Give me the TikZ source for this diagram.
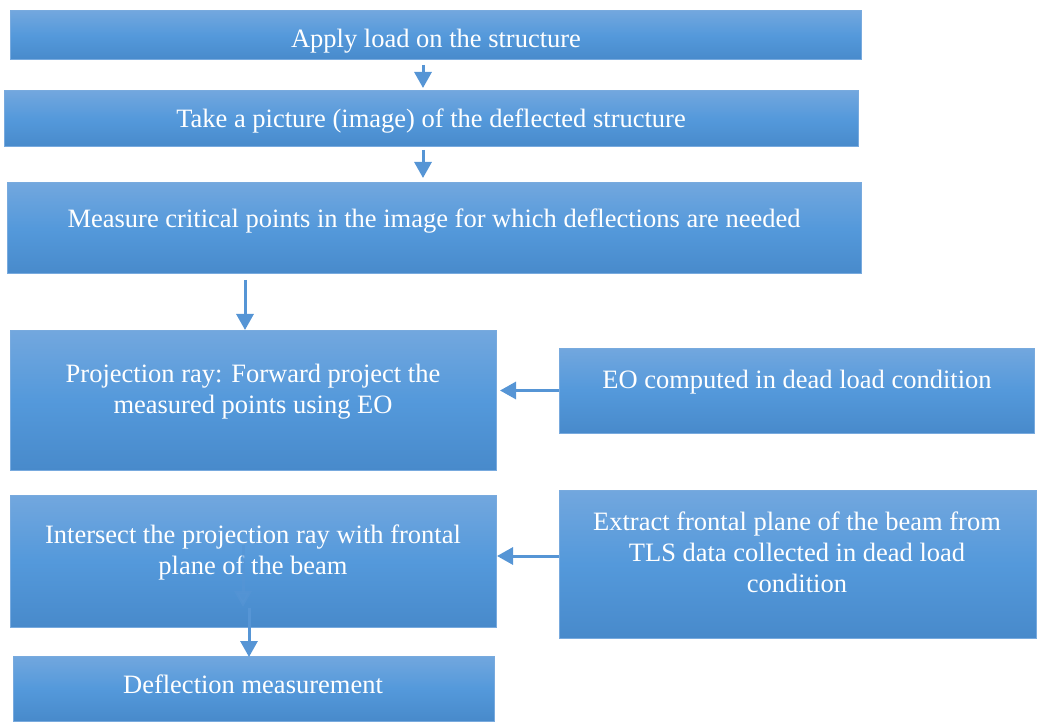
\documentclass[tikz,border=0pt]{standalone}
\usepackage{fontspec}
\setmainfont{Liberation Serif}
\usetikzlibrary{arrows.meta}
\definecolor{boxtop}{RGB}{114,167,222}
\definecolor{boxmid}{RGB}{84,153,219}
\definecolor{boxbot}{RGB}{72,138,203}
\definecolor{boxline}{RGB}{120,170,222}
\definecolor{arrcol}{RGB}{86,149,213}
\tikzset{
  box/.style={draw=boxline, line width=1pt, top color=boxtop, bottom color=boxbot, middle color=boxmid, inner sep=0pt, outer sep=0pt},
  lbl/.style={text=white, font=\fontsize{26.5}{31}\selectfont, align=center, inner sep=0pt},
  arr/.style={draw=arrcol, line width=3pt, -{Triangle[width=17pt,length=16pt]}},
}
\begin{document}
\begin{tikzpicture}[x=1pt,y=-1pt]
\useasboundingbox (0,0) rectangle (1037,722);
% boxes
\node[box, minimum width=851pt, minimum height=49pt] (b1) at (435.5,35.5) {};
\node[box, minimum width=854pt, minimum height=56pt] (b2) at (431,119) {};
\node[box, minimum width=854pt, minimum height=91pt] (b3) at (434,228.5) {};
\node[box, minimum width=486pt, minimum height=139pt] (b4) at (253,400.5) {};
\node[box, minimum width=475pt, minimum height=85pt] (b5) at (796.5,390.5) {};
\node[box, minimum width=486pt, minimum height=132pt] (b6) at (253,561) {};
\node[box, minimum width=477pt, minimum height=148pt] (b7) at (797.5,564) {};
\node[box, minimum width=481pt, minimum height=65pt] (b8) at (253.5,688.5) {};
% labels
\node[lbl] (t1) at (436,41) {Apply load on the structure};
\node[lbl] (t2) at (431,121) {Take a picture (image) of the deflected structure};
\node[lbl] (t3) at (434,221) {Measure critical points in the image for which deflections are needed};
\node[lbl] (t4) at (253,392) {Projection ray: Forward project the\\measured points using EO};
\node[lbl] (t5) at (797,382) {EO computed in dead load condition};
\node[lbl] (t6) at (253,552) {Intersect the projection ray with frontal\\plane of the beam};
\node[lbl] (t7) at (797,552.5) {Extract frontal plane of the beam from\\TLS data collected in dead load\\condition};
\node[lbl] (t8) at (253,684.5) {Deflection measurement};
% arrow coordinates
\coordinate (c1) at (423,0);
\coordinate (c3) at (245,0);
\coordinate (c7) at (0,556);
\coordinate (g1) at (243,545);
\coordinate (g2) at (243,607);
\coordinate (c8) at (249,0);
% arrows
\draw[arr, shorten <=5pt, shorten >=3pt] (b1.south -| c1) -- (b2.north -| c1);
\draw[arr, shorten <=3pt, shorten >=5pt] (b2.south -| c1) -- (b3.north -| c1);
\draw[arr, shorten <=6pt, shorten >=1pt] (b3.south -| c3) -- (b4.north -| c3);
\draw[arr, shorten >=4pt] (b5.west) -- (b5.west -| b4.east);
\draw[arr, shorten >=1pt] (b7.west |- c7) -- (b6.east |- c7);
\draw[arr, opacity=0.6] (g1) -- (g2);
\draw[arr, shorten <=1pt, shorten >=-1pt] (g2 -| c8) -- (b8.north -| c8);
\end{tikzpicture}
\end{document}
